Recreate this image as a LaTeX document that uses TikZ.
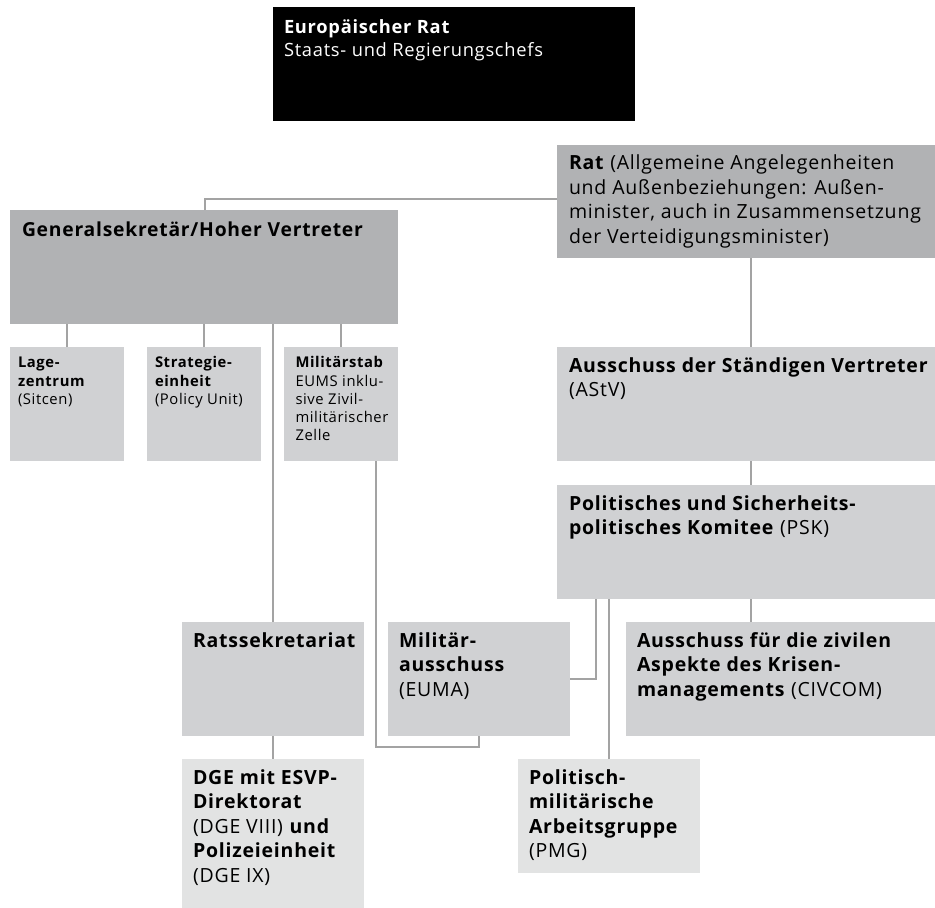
\documentclass[tikz,border=0pt]{standalone}
\usepackage{fontspec}
\setmainfont{Open Sans}[LetterSpace=4]
\usetikzlibrary{calc}
\definecolor{darkbox}{HTML}{B1B2B4}
\definecolor{midbox}{HTML}{D0D1D3}
\definecolor{lightbox}{HTML}{E2E3E3}
\definecolor{conn}{HTML}{A3A3A3}
\newcommand\fbig{\fontsize{19.5}{24.5}\selectfont}
\newcommand\fhuge{\fontsize{19.3}{23.5}\selectfont}
\newcommand\fer{\fontsize{18.3}{23.5}\selectfont}
\newcommand\fsmall{\fontsize{14.8}{18.3}\selectfont}
\tikzset{
  orgbox/.style={anchor=north west, inner sep=0pt, outer sep=0pt, draw=none},
  orgtext/.style={anchor=north west, inner sep=0pt, outer sep=0pt, align=left, text=black, font=\fbig},
  link/.style={draw=conn, line width=1.3pt},
}
\begin{document}
\begin{tikzpicture}[x=1pt,y=-1pt]
\useasboundingbox (0,0) rectangle (935,908);
% boxes
\node[orgbox, fill=black, minimum width=362pt, minimum height=114pt] (er) at (273,7) {};
\node[orgbox, fill=darkbox, minimum width=378pt, minimum height=113pt] (rat) at (557,145) {};
\node[orgbox, fill=darkbox, minimum width=388pt, minimum height=114pt] (gs) at (10,210) {};
\node[orgbox, fill=midbox, minimum width=114pt, minimum height=114pt] (lage) at (10,347) {};
\node[orgbox, fill=midbox, minimum width=114pt, minimum height=114pt] (strat) at (147,347) {};
\node[orgbox, fill=midbox, minimum width=114pt, minimum height=114pt] (mils) at (284,347) {};
\node[orgbox, fill=midbox, minimum width=378pt, minimum height=114pt] (astv) at (557,347) {};
\node[orgbox, fill=midbox, minimum width=378pt, minimum height=114pt] (psk) at (557,485) {};
\node[orgbox, fill=midbox, minimum width=182pt, minimum height=114pt] (rs) at (182,622) {};
\node[orgbox, fill=midbox, minimum width=182pt, minimum height=114pt] (ma) at (388,622) {};
\node[orgbox, fill=midbox, minimum width=309pt, minimum height=114pt] (civ) at (626,622) {};
\node[orgbox, fill=lightbox, minimum width=182pt, minimum height=149pt] (dge) at (182,759) {};
\node[orgbox, fill=lightbox, minimum width=182pt, minimum height=114pt] (pmg) at (518,759) {};
% texts
\node[orgtext, text=white, font=\fer] (er-t) at ($(er.north west)+(11,9.8)$) {\strut\textbf{Europäischer Rat}\\Staats- und Regierungschefs};
\node[orgtext] (rat-t) at ($(rat.north west)+(12,7.4)$) {\strut\textbf{Rat} (Allgemeine Angelegenheiten\\und Außenbeziehungen: Außen-\\minister, auch in Zusammensetzung\\der Verteidigungsminister)};
\node[orgtext, font=\fhuge] (gs-t) at ($(gs.north west)+(12,10.5)$) {\strut\textbf{Generalsekretär/Hoher Vertreter}};
\node[orgtext, font=\fsmall] (lage-t) at ($(lage.north west)+(8,7.9)$) {\strut\textbf{Lage-}\\\textbf{zentrum}\\(Sitcen)};
\node[orgtext, font=\fsmall] (strat-t) at ($(strat.north west)+(8,7.9)$) {\strut\textbf{Strategie-}\\\textbf{einheit}\\(Policy Unit)};
\node[orgtext, font=\fsmall] (mils-t) at ($(mils.north west)+(11.5,7.9)$) {\strut\textbf{Militärstab}\\EUMS inklu-\\sive Zivil-\\militärischer\\Zelle};
\node[orgtext] (astv-t) at ($(astv.north west)+(12,8)$) {\strut\textbf{Ausschuss der Ständigen Vertreter}\\(AStV)};
\node[orgtext] (psk-t) at ($(psk.north west)+(12,8)$) {\strut\textbf{Politisches und Sicherheits-}\\\textbf{politisches Komitee} (PSK)};
\node[orgtext] (rs-t) at ($(rs.north west)+(11,8)$) {\strut\textbf{Ratssekretariat}};
\node[orgtext] (ma-t) at ($(ma.north west)+(11,8)$) {\strut\textbf{Militär-}\\\textbf{ausschuss}\\(EUMA)};
\node[orgtext] (civ-t) at ($(civ.north west)+(11,8)$) {\strut\textbf{Ausschuss für die zivilen}\\\textbf{Aspekte des Krisen-}\\\textbf{managements} (CIVCOM)};
\node[orgtext] (dge-t) at ($(dge.north west)+(11,8)$) {\strut\textbf{DGE mit ESVP-}\\\textbf{Direktorat}\\(DGE VIII) \textbf{und}\\\textbf{Polizeieinheit}\\(DGE IX)};
\node[orgtext] (pmg-t) at ($(pmg.north west)+(11,8)$) {\strut\textbf{Politisch-}\\\textbf{militärische}\\\textbf{Arbeitsgruppe}\\(PMG)};
% connectors
\draw[link] ($(gs.north west)+(195,0)$) |- ($(rat.north west)+(0,54)$);
\draw[link] (lage.north) -- (lage.north |- gs.south);
\draw[link] (strat.north) -- (strat.north |- gs.south);
\draw[link] (mils.north) -- (mils.north |- gs.south);
\draw[link] (rs.north) -- (rs.north |- gs.south);
\draw[link] ($(mils.south west)+(92,0)$) |- ($(ma.south)+(0,11)$) -- (ma.south);
\draw[link] ($(rat.south west)+(194,0)$) -- ($(astv.north west)+(194,0)$);
\draw[link] ($(astv.south west)+(194,0)$) -- ($(psk.north west)+(194,0)$);
\draw[link] ($(psk.south west)+(194,0)$) -- ($(civ.north west)+(125,0)$);
\draw[link] ($(psk.south west)+(39,0)$) |- (ma.east);
\draw[link] (pmg.north) -- (pmg.north |- psk.south);
\draw[link] (rs.south) -- (dge.north);
\end{tikzpicture}
\end{document}
